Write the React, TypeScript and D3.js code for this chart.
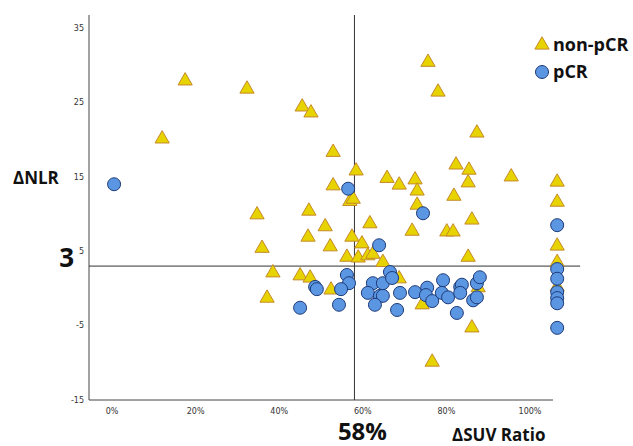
import React from 'react';
import * as d3 from 'd3';

// non-pCR (triangles): [ΔSUV ratio %, ΔNLR]
const nonPcr: [number, number][] = [
  [17.5, 27.9], [12.0, 20.1], [32.3, 26.8], [45.5, 24.4], [47.6, 23.6],
  [52.9, 18.3], [58.4, 15.8], [52.9, 13.8], [56.9, 11.7], [57.7, 12.0],
  [47.1, 10.4], [34.7, 9.9], [51.0, 8.3], [61.7, 8.7], [46.9, 6.9],
  [57.4, 6.9], [59.8, 6.0], [52.2, 5.6], [35.9, 5.4], [56.2, 4.2],
  [58.9, 4.1], [61.2, 4.4], [62.4, 4.6], [64.8, 3.5], [38.5, 2.1],
  [45.0, 1.7], [47.4, 1.4], [37.1, -1.3], [52.4, -0.2], [68.7, 1.3],
  [74.2, -2.2], [86.1, -5.3], [76.6, -9.9], [65.8, 14.8], [68.7, 13.9],
  [72.5, 14.6], [73.0, 13.1], [73.0, 11.2], [71.8, 7.7], [75.6, 30.4],
  [78.0, 26.4], [87.3, 20.9], [82.3, 16.6], [85.4, 15.9], [85.2, 14.2],
  [81.8, 12.4], [86.1, 9.2], [80.1, 7.6], [81.6, 7.6], [85.2, 4.2],
  [95.5, 15.0], [87.6, 0.1], [106.5, 14.3], [106.5, 11.6], [106.5, 5.7],
  [106.5, 3.5], [106.5, 0.2],
];

// pCR (circles)
const pcr: [number, number][] = [
  [0.5, 14.0], [56.5, 13.4], [74.4, 10.1], [63.9, 5.8], [106.5, 8.5],
  [56.2, 1.8], [56.7, 0.7], [54.8, -0.1], [48.6, 0.2], [49.0, -0.1],
  [45.0, -2.6], [54.3, -2.2], [62.4, 0.7], [61.2, -0.6], [64.1, -1.0],
  [64.8, -1.0], [62.9, -2.2], [64.8, 0.7], [66.5, 2.2], [67.0, 1.4],
  [68.9, -0.6], [68.2, -2.9], [72.5, -0.5], [75.4, 0.1], [75.1, -0.9],
  [76.6, -1.7], [79.2, 1.1], [78.9, -0.6], [80.4, -1.2], [83.3, 0.2],
  [83.7, 0.5], [83.3, -0.6], [82.5, -3.3], [86.4, -1.6], [87.3, -1.2],
  [87.3, 0.7], [88.0, 1.5], [106.5, 2.6], [106.5, 1.3], [106.5, -0.5],
  [106.5, -1.3], [106.5, -2.0], [106.5, -5.3],
];

const yTicks = [35, 25, 15, 5, -5, -15];
const xTicks = [0, 20, 40, 60, 80, 100];
const nlrCut = 3;
const suvCut = 58;

const W = 633;
const H = 446;

const x = d3.scaleLinear().domain([-5.5, 105.5]).range([89, 553]);
const y = d3.scaleLinear().domain([-15, 36.75]).range([400, 15]);

const tri = d3.symbol().type(d3.symbolTriangle).size(88)();

const triFill = '#e6d300';
const triStroke = '#c58a2a';
const dotFill = '#5b96e2';
const dotStroke = '#1d3a78';
const tickFont = '"DejaVu Sans", sans-serif';
const boldFont = '"Open Sans", sans-serif';

export default function App() {
  return (
    <svg
      width={W}
      height={H}
      style={{ position: 'absolute', left: 0, top: 0, background: '#fff' }}
    >
      {/* axes */}
      <line x1={x(-5.5)} x2={x(-5.5)} y1={y(36.75)} y2={y(-15)} stroke="#444" />
      <line x1={x(-5.5)} x2={x(105.5)} y1={y(-15)} y2={y(-15)} stroke="#444" />

      {yTicks.map(t => (
        <text key={t} x={x(-5.5) - 5} y={y(t)} dy="0.35em" textAnchor="end"
          fontSize={8} fontFamily={tickFont} fill="#333">{t}</text>
      ))}
      {xTicks.map(t => (
        <text key={t} x={x(t)} y={y(-15) + 11} dy="0.35em" textAnchor="middle"
          fontSize={8} fontFamily={tickFont} fill="#333">{t}%</text>
      ))}

      {/* cut-off lines */}
      <line x1={x(-5.5)} x2={x(112)} y1={y(nlrCut)} y2={y(nlrCut)} stroke="#333" />
      <line x1={x(suvCut)} x2={x(suvCut)} y1={y(36.75)} y2={y(-15)} stroke="#333" />

      {/* points */}
      {nonPcr.map((d, i) => (
        <path key={'t' + i} d={tri} transform={`translate(${x(d[0])},${y(d[1])})`}
          fill={triFill} stroke={triStroke} strokeWidth={1} />
      ))}
      {pcr.map((d, i) => (
        <circle key={'c' + i} cx={x(d[0])} cy={y(d[1])} r={6.5}
          fill={dotFill} stroke={dotStroke} strokeWidth={1} />
      ))}

      {/* legend */}
      <path d={tri} transform="translate(542,45)" fill={triFill} stroke={triStroke} />
      <text x={553} y={45} dy="0.35em" fontSize={18} fontWeight="bold"
        fontFamily={boldFont} fill="#111">non-pCR</text>
      <circle cx={542} cy={72} r={6.5} fill={dotFill} stroke={dotStroke} />
      <text x={553} y={72} dy="0.35em" fontSize={18} fontWeight="bold"
        fontFamily={boldFont} fill="#111">pCR</text>

      {/* titles and annotations */}
      <text x={13} y={184} fontSize={17} fontWeight="bold" fontFamily={boldFont} fill="#111">ΔNLR</text>
      <text x={74} y={y(nlrCut) + 1} textAnchor="end" fontSize={26} fontWeight="bold"
        fontFamily={boldFont} fill="#111">{nlrCut}</text>
      <text x={x(suvCut) + 8} y={440} textAnchor="middle" fontSize={24} fontWeight="bold"
        fontFamily={boldFont} fill="#111">{suvCut}%</text>
      <text x={452} y={441} fontSize={17} fontWeight="bold" fontFamily={boldFont} fill="#111">ΔSUV Ratio</text>
    </svg>
  );
}
